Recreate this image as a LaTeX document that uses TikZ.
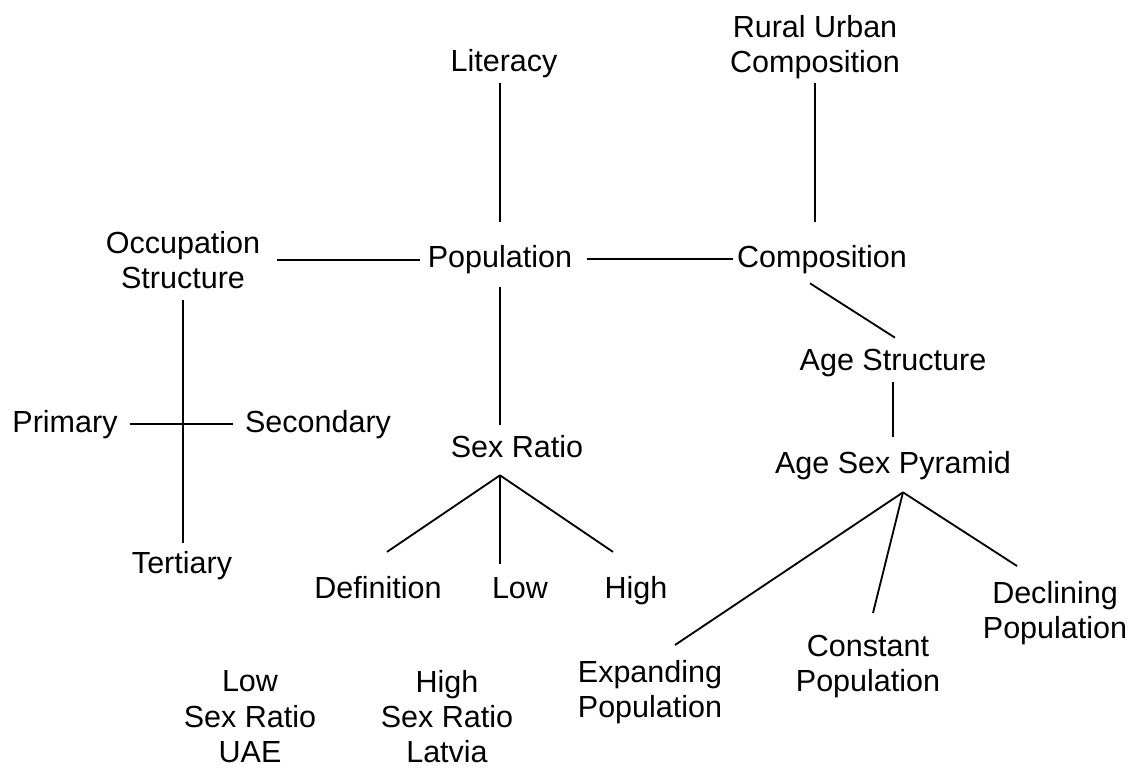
\documentclass[tikz,border=0pt]{standalone}
\usepackage{fontspec}
\setmainfont{Liberation Sans}
\begin{document}
\begin{tikzpicture}[x=0.025cm, y=-0.025cm, lbl/.style = {anchor=base, inner sep=0pt, outer sep=0pt, align=center, font=\fontsize{21.7pt}{24.9pt}\selectfont}, link/.style = {line width=1.3pt}]
    \useasboundingbox (0, 0) rectangle (1133, 775);
    \node (lit) at (504, 72) [lbl]{Literacy};
    \node (rur) at (815, 15) [lbl, anchor=north]{Rural Urban\\Composition};
    \node (occ) at (183, 231) [lbl, anchor=north]{Occupation\\Structure};
    \node (pop) at (500, 267) [lbl]{Population};
    \node (comp) at (822, 267) [lbl]{Composition};
    \node (prim) at (65, 432) [lbl]{Primary};
    \node (sec) at (318, 432) [lbl]{Secondary};
    \node (ter) at (182, 573) [lbl]{Tertiary};
    \node (sr) at (517, 457) [lbl]{Sex Ratio};
    \node (def) at (378, 598) [lbl]{Definition};
    \node (low) at (520, 598) [lbl]{Low};
    \node (high) at (636, 598) [lbl]{High};
    \node (ags) at (893, 370) [lbl]{Age Structure};
    \node (asp) at (893, 473) [lbl]{Age Sex Pyramid};
    \node (dec) at (1055, 581) [lbl, anchor=north]{Declining\\Population};
    \node (con) at (868, 635) [lbl, anchor=north]{Constant\\Population};
    \node (exp) at (650, 660) [lbl, anchor=north]{Expanding\\Population};
    \node (lsr) at (250, 671) [lbl, anchor=north]{Low\\Sex Ratio\\UAE};
    \node (hsr) at (447, 670) [lbl, anchor=north]{High\\Sex Ratio\\Latvia};
    \coordinate (srtop) at ([shift={(-17,18)}]sr.south);
    \coordinate (asptop) at ([shift={(10,13)}]asp.south);
    \draw[link, shorten <=0.125cm, shorten >=0.575cm] (pop.north |- lit.south) -- (pop.north);
    \draw[link, shorten <=0.125cm, shorten >=0.575cm] (rur.south) -- (rur.south |- comp.north);
    \draw[link, shorten <=0.425cm, shorten >=0.2cm] (occ.east) -- (occ.east -| pop.west);
    \draw[link, shorten <=0.375cm, shorten >=0.1cm] (pop.east) -- (pop.east -| comp.west);
    \draw[link, shorten <=0.3cm, shorten >=0.2cm] (occ.south) -- (occ.south |- ter.north);
    \draw[link, shorten <=0.3cm, shorten >=0.3cm] (prim.east) -- (prim.east -| sec.west);
    \draw[link, shorten <=0.35cm, shorten >=0.25cm] (pop.south) -- (pop.south |- sr.north);
    \draw[link] (srtop) -- ([shift={(9,-24)}]def.north);
    \draw[link] (srtop) -- ([shift={(-20,-13)}]low.north);
    \draw[link] (srtop) -- ([shift={(-23,-24)}]high.north);
    \draw[link] ([shift={(-12,10)}]comp.south) -- ([shift={(2,-11)}]ags.north);
    \draw[link, shorten <=0.15cm, shorten >=0.35cm] (ags.south) -- (ags.south |- asp.north);
    \draw[link] (asptop) -- ([shift={(25,-15)}]exp.north);
    \draw[link] (asptop) -- ([shift={(5,-22)}]con.north);
    \draw[link] (asptop) -- ([shift={(-38,-15)}]dec.north);
\end{tikzpicture}
\end{document}
